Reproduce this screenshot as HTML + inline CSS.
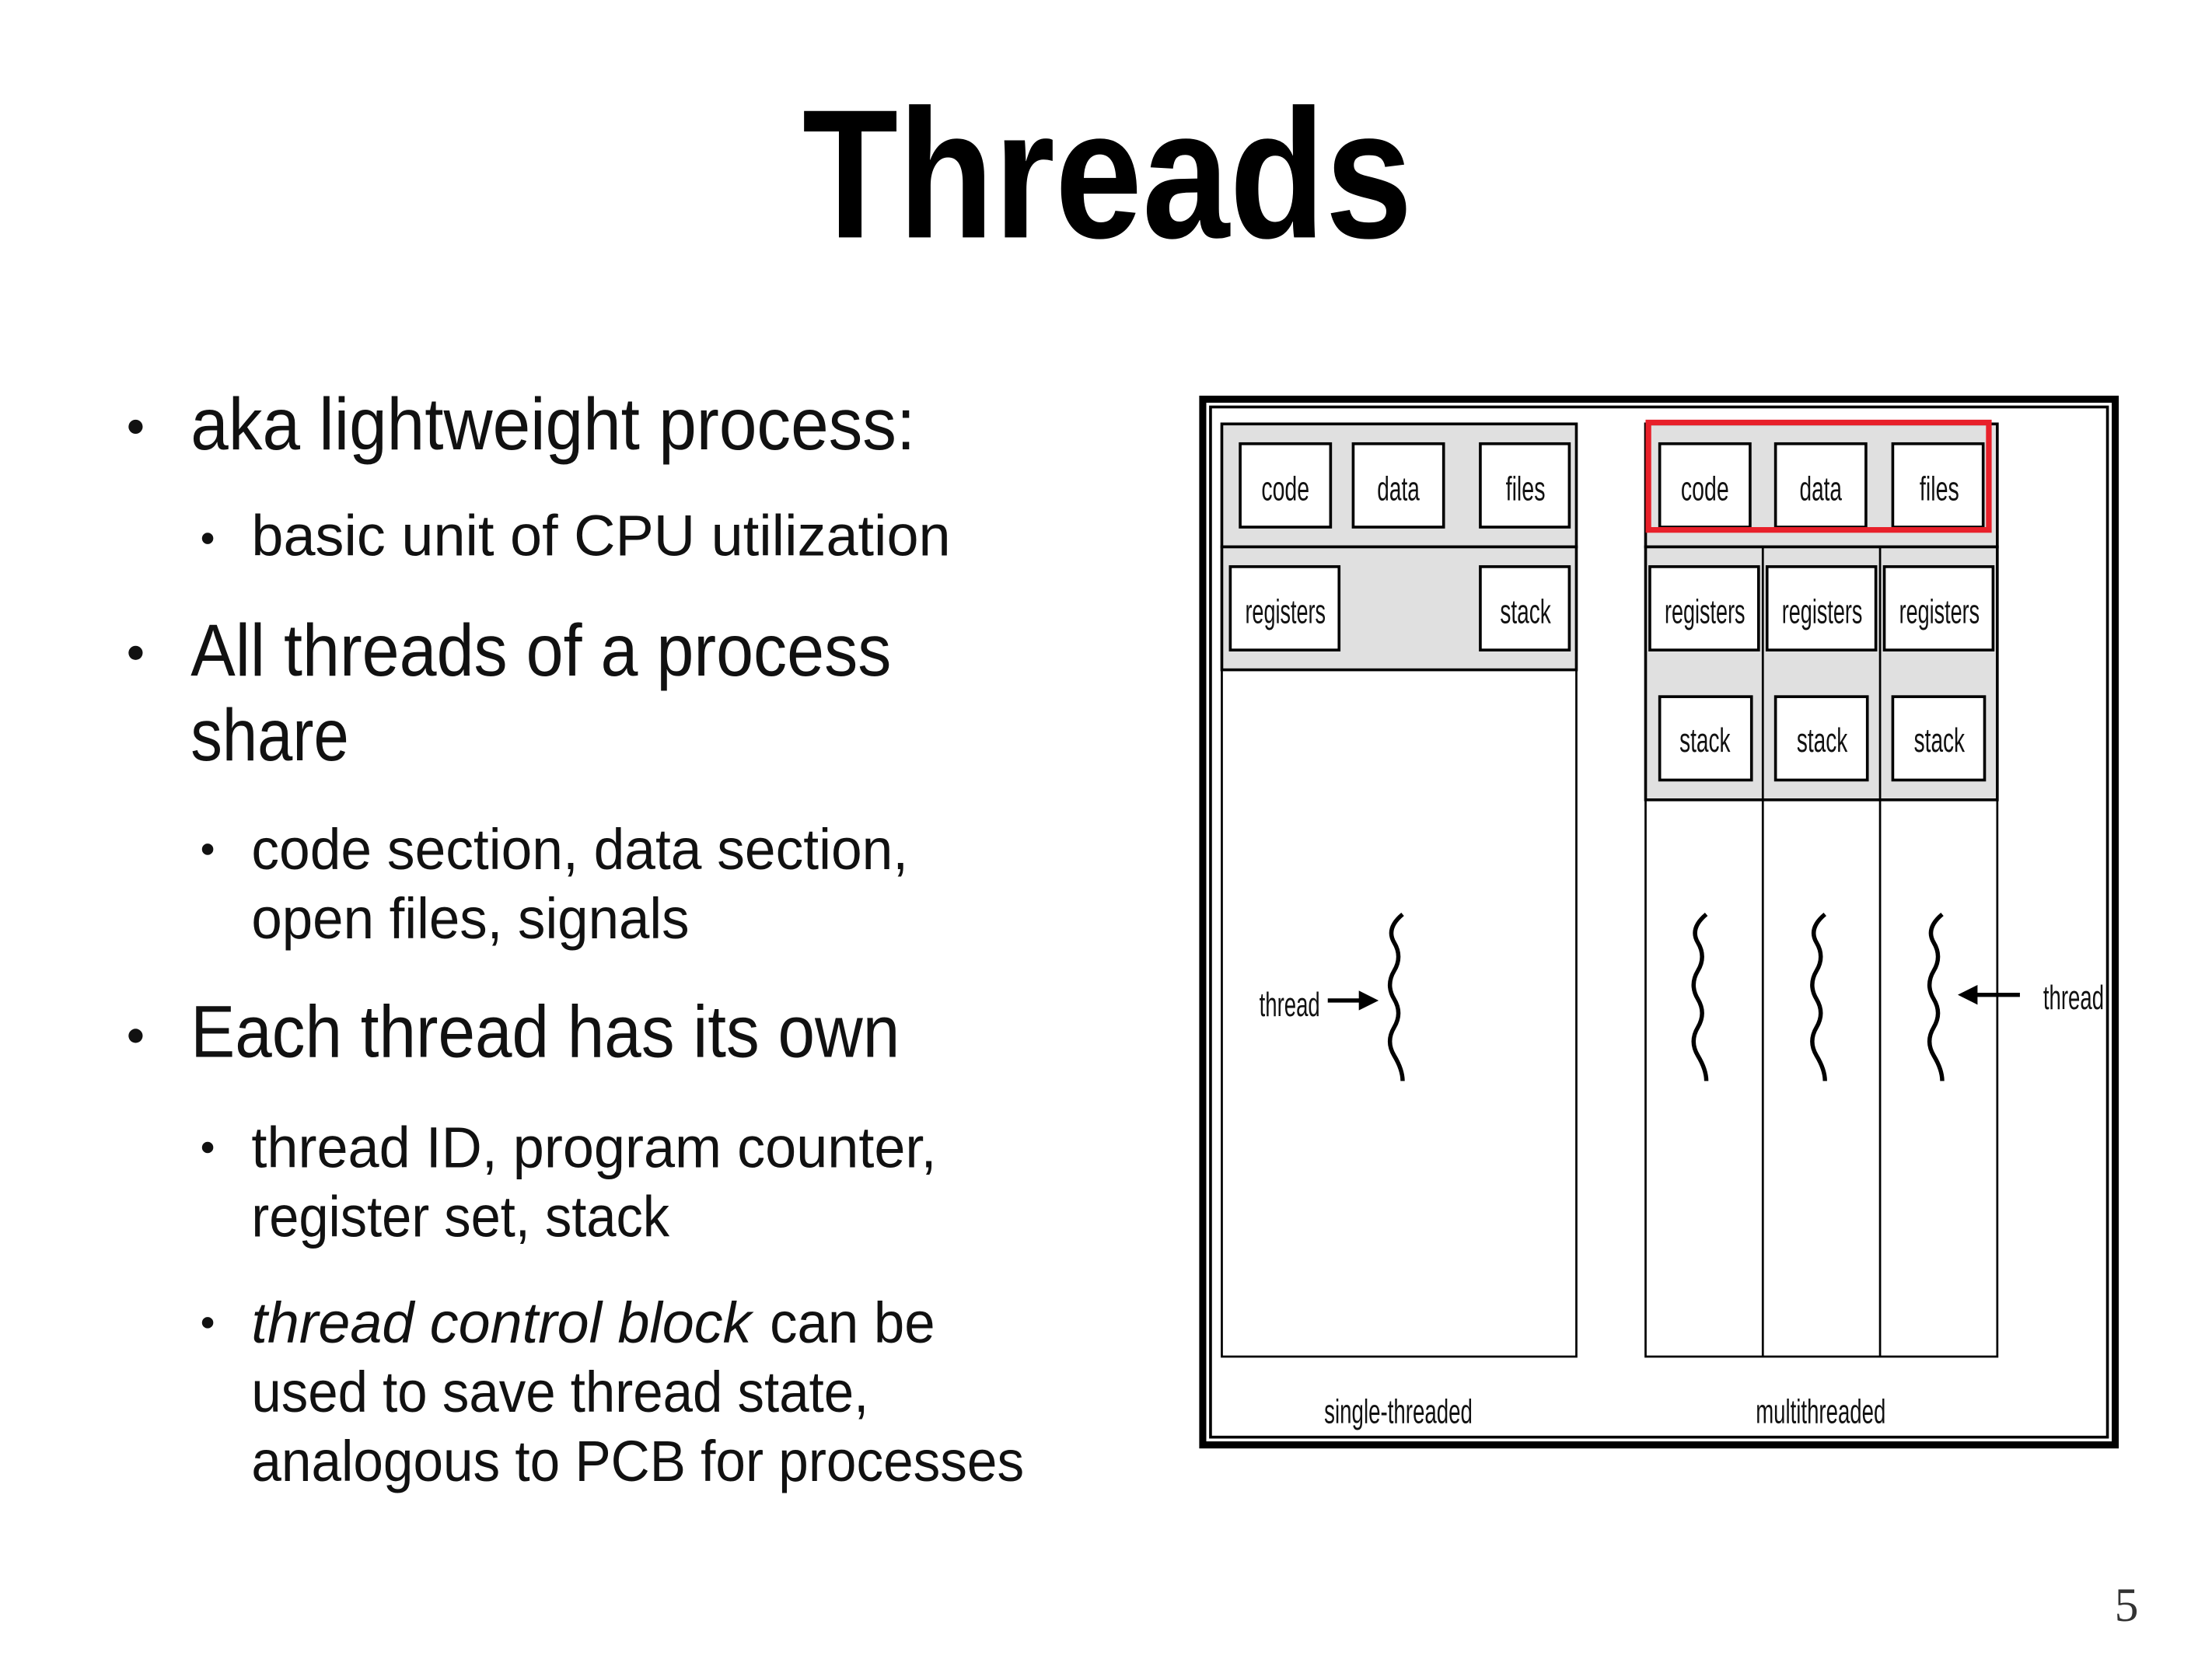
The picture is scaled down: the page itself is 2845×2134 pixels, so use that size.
<!DOCTYPE html>
<html><head><meta charset="utf-8"><style>
html,body{margin:0;padding:0;background:#fff}
svg{display:block}
</style></head><body>
<svg width="2845" height="2134" viewBox="0 0 1566 1174" preserveAspectRatio="none" xmlns="http://www.w3.org/2000/svg" font-family="Liberation Sans, sans-serif">
<rect width="1566" height="1174" fill="#fff"/>
<text x="568" y="168" font-size="130" font-weight="bold" textLength="432" lengthAdjust="spacingAndGlyphs">Threads</text>
<g fill="#111">
<circle cx="96" cy="302" r="5"/><circle cx="96" cy="462" r="5"/><circle cx="96" cy="733" r="5"/>
<circle cx="147" cy="381" r="4"/><circle cx="147" cy="601" r="4"/><circle cx="147" cy="812" r="4"/><circle cx="147" cy="936" r="4"/>
</g>
<g font-size="52" fill="#111">
<text x="135" y="318" textLength="513" lengthAdjust="spacingAndGlyphs">aka lightweight process:</text>
<text x="135" y="478" textLength="496" lengthAdjust="spacingAndGlyphs">All threads of a process</text>
<text x="135" y="538" textLength="112" lengthAdjust="spacingAndGlyphs">share</text>
<text x="135" y="748" textLength="502" lengthAdjust="spacingAndGlyphs">Each thread has its own</text>
</g>
<g font-size="41" fill="#111">
<text x="178" y="393" textLength="495" lengthAdjust="spacingAndGlyphs">basic unit of CPU utilization</text>
<text x="178" y="615" textLength="465" lengthAdjust="spacingAndGlyphs">code section, data section,</text>
<text x="178" y="664" textLength="310" lengthAdjust="spacingAndGlyphs">open files, signals</text>
<text x="178" y="826" textLength="485" lengthAdjust="spacingAndGlyphs">thread ID, program counter,</text>
<text x="178" y="875" textLength="296" lengthAdjust="spacingAndGlyphs">register set, stack</text>
<text x="178" y="950" textLength="354" lengthAdjust="spacingAndGlyphs" font-style="italic">thread control block</text>
<text x="545" y="950" textLength="117" lengthAdjust="spacingAndGlyphs">can be</text>
<text x="178" y="999" textLength="437" lengthAdjust="spacingAndGlyphs">used to save thread state,</text>
<text x="178" y="1048" textLength="547" lengthAdjust="spacingAndGlyphs">analogous to PCB for processes</text>
</g>
<text x="1497" y="1147" font-size="34" font-family="Liberation Serif, serif" fill="#333">5</text>

<!-- diagram -->
<rect x="851.5" y="282.5" width="646" height="740" fill="#fff" stroke="#000" stroke-width="5"/>
<rect x="857" y="288" width="635" height="729" fill="none" stroke="#000" stroke-width="2"/>
<g stroke="#000" stroke-width="1.5">
<rect x="865" y="300" width="251" height="660" fill="#fff"/>
<rect x="865" y="300" width="251" height="87" fill="#e0e0e0" stroke-width="2"/>
<rect x="865" y="387" width="251" height="87" fill="#e0e0e0" stroke-width="2"/>
<rect x="1165" y="300" width="249" height="660" fill="#fff"/>
<rect x="1165" y="300" width="249" height="87" fill="#e0e0e0" stroke-width="2"/>
<rect x="1165" y="387" width="249" height="179" fill="#e0e0e0" stroke-width="2"/>
<line x1="1248" y1="387" x2="1248" y2="960"/><line x1="1331" y1="387" x2="1331" y2="960"/>
<g fill="#fff" stroke-width="2">
<rect x="878" y="314" width="64" height="59"/><rect x="958" y="314" width="64" height="59"/><rect x="1048" y="314" width="63" height="59"/>
<rect x="871" y="401" width="77" height="59"/><rect x="1048" y="401" width="63" height="59"/>
<rect x="1175" y="314" width="64" height="59"/><rect x="1257" y="314" width="64" height="59"/><rect x="1340" y="314" width="64" height="59"/>
<rect x="1168" y="401" width="77" height="59"/><rect x="1251" y="401" width="77" height="59"/><rect x="1334" y="401" width="77" height="59"/>
<rect x="1175" y="493" width="65" height="59"/><rect x="1257" y="493" width="65" height="59"/><rect x="1340" y="493" width="65" height="59"/>
</g>
</g>
<rect x="1167" y="299" width="241" height="76" fill="none" stroke="#e8202a" stroke-width="4"/>
<g font-size="24" fill="#111" text-anchor="middle">
<text x="910" y="354" textLength="34" lengthAdjust="spacingAndGlyphs">code</text>
<text x="990" y="354" textLength="30" lengthAdjust="spacingAndGlyphs">data</text>
<text x="1080" y="354" textLength="28" lengthAdjust="spacingAndGlyphs">files</text>
<text x="910" y="441" textLength="57" lengthAdjust="spacingAndGlyphs">registers</text>
<text x="1080" y="441" textLength="36" lengthAdjust="spacingAndGlyphs">stack</text>
<text x="1207" y="354" textLength="34" lengthAdjust="spacingAndGlyphs">code</text>
<text x="1289" y="354" textLength="30" lengthAdjust="spacingAndGlyphs">data</text>
<text x="1373" y="354" textLength="28" lengthAdjust="spacingAndGlyphs">files</text>
<text x="1207" y="441" textLength="57" lengthAdjust="spacingAndGlyphs">registers</text>
<text x="1290" y="441" textLength="57" lengthAdjust="spacingAndGlyphs">registers</text>
<text x="1373" y="441" textLength="57" lengthAdjust="spacingAndGlyphs">registers</text>
<text x="1207" y="532" textLength="36" lengthAdjust="spacingAndGlyphs">stack</text>
<text x="1290" y="532" textLength="36" lengthAdjust="spacingAndGlyphs">stack</text>
<text x="1373" y="532" textLength="36" lengthAdjust="spacingAndGlyphs">stack</text>
<text x="913" y="719" textLength="43" lengthAdjust="spacingAndGlyphs">thread</text>
<text x="1468" y="714" textLength="43" lengthAdjust="spacingAndGlyphs">thread</text>
<text x="990" y="1007" textLength="105" lengthAdjust="spacingAndGlyphs">single-threaded</text>
<text x="1289" y="1007" textLength="92" lengthAdjust="spacingAndGlyphs">multithreaded</text>
</g>
<g fill="none" stroke="#000" stroke-width="3">
<path d="M993,647 Q981,657 987,667 T987,687 T987,707 T987,727 T987,747 T993,765"/>
<path d="M1208,647 Q1196,657 1202,667 T1202,687 T1202,707 T1202,727 T1202,747 T1208,765"/>
<path d="M1292,647 Q1280,657 1286,667 T1286,687 T1286,707 T1286,727 T1286,747 T1292,765"/>
<path d="M1375,647 Q1363,657 1369,667 T1369,687 T1369,707 T1369,727 T1369,747 T1375,765"/>
<line x1="940" y1="708" x2="964" y2="708"/>
<line x1="1430" y1="704" x2="1398" y2="704"/>
</g>
<polygon points="962,701 976,708 962,715" fill="#000"/>
<polygon points="1400,697 1386,704 1400,711" fill="#000"/>
</svg>
</body></html>
